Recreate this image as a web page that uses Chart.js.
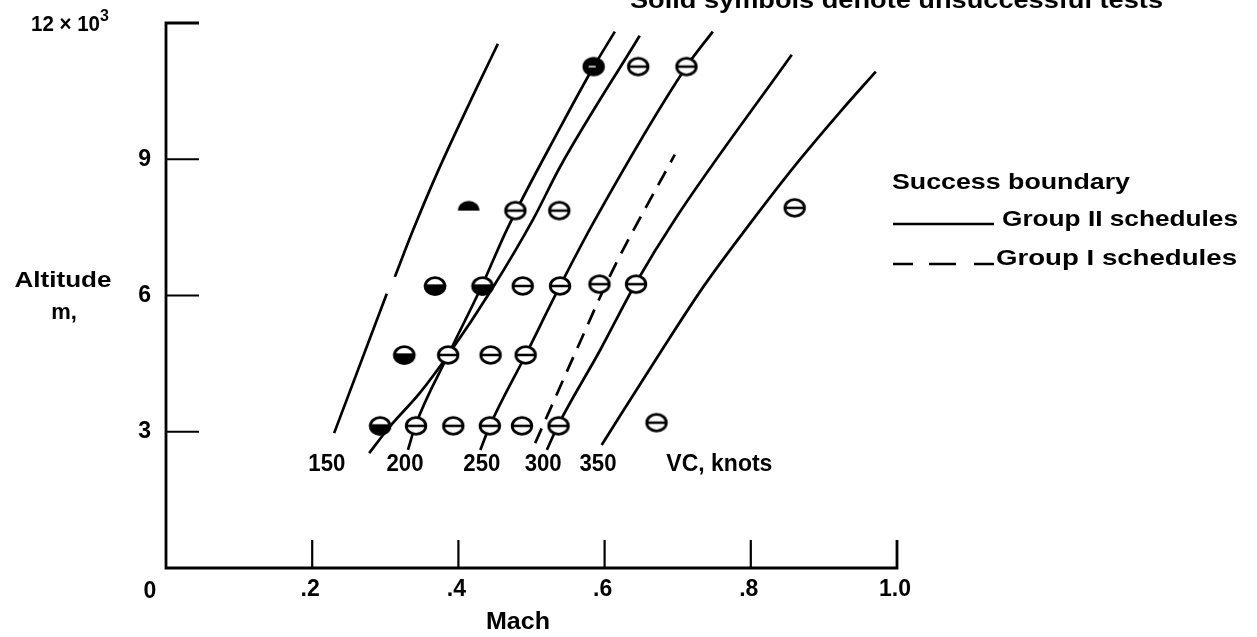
<!DOCTYPE html>
<html>
<head>
<meta charset="utf-8">
<script src="https://cdn.jsdelivr.net/npm/chart.js@4.4.1/dist/chart.umd.min.js"></script>
<style>
  html, body { margin: 0; padding: 0; background: #fff; }
  #wrap { width: 1257px; height: 637px; }
</style>
</head>
<body>
<div id="wrap"><canvas id="chart" width="1257" height="637"></canvas></div>
<script>
// axes: Mach number and altitude (thousands of metres)
const machTicks = [0.2, 0.4, 0.6, 0.8, 1.0];
const machTickLabels = ['.2', '.4', '.6', '.8', '1.0'];
const altTicks = [3, 6, 9, 12];
const altTickLabels = ['3', '6', '9', '12 × 10'];

// success boundaries, group II schedules (solid lines), per VC in knots
const vc150Mach = [0.230, 0.302, null, 0.313, 0.338, 0.371, 0.425, 0.454];
const vc150Alt  = [2.97, 6.04, null, 6.41, 7.44, 8.70, 10.57, 11.54];
const vcLowMach = [0.278, 0.306, 0.347, 0.386, 0.447, 0.502, 0.539, 0.648];
const vcLowAlt  = [2.53, 3.11, 3.85, 4.69, 6.17, 7.67, 8.83, 11.72];
const vc200Mach = [0.331, 0.341, 0.386, 0.432, 0.466, 0.539, 0.584, 0.614];
const vc200Alt  = [2.60, 3.13, 4.69, 6.21, 7.44, 9.69, 11.01, 11.81];
const vc250Mach = [0.430, 0.443, 0.492, 0.539, 0.587, 0.712, 0.748];
const vc250Alt  = [2.60, 3.13, 4.69, 6.21, 7.67, 11.04, 11.81];
const vc300Mach = [0.521, 0.536, 0.594, 0.643, 0.696, 0.856];
const vc300Alt  = [2.60, 3.13, 4.80, 6.28, 7.67, 11.30];
const vc350Mach = [0.596, 0.676, 0.735, 0.803, 0.867, 0.922, 0.971];
const vc350Alt  = [2.71, 4.74, 6.19, 7.67, 8.99, 10.04, 10.93];

// group I schedules (dashed line)
const groupIMach = [0.505, 0.566, 0.610, 0.696];
const groupIAlt  = [2.75, 4.96, 6.52, 9.10];

// test points
const openMach = [0.342, 0.393, 0.443, 0.487, 0.537, 0.671, 0.386, 0.444, 0.492,
                  0.488, 0.539, 0.593, 0.643, 0.478, 0.538, 0.860, 0.646, 0.712];
const openAlt  = [3.13, 3.13, 3.13, 3.13, 3.13, 3.20, 4.69, 4.69, 4.69,
                  6.21, 6.21, 6.25, 6.25, 7.87, 7.87, 7.93, 11.04, 11.04];
const halfMach = [0.293, 0.326, 0.368, 0.433];
const halfAlt  = [3.13, 4.69, 6.21, 6.21];
const domeMach = [0.414];
const domeAlt  = [7.87];
const solidMach = [0.585];
const solidAlt  = [11.04];

// VC labels under the lines
const vcLabels = ['150', '200', '250', '300', '350', 'VC, knots'];
const vcLabelMach = [0.220, 0.327, 0.432, 0.516, 0.591, 0.757];

const FONT = '"Liberation Sans", Arial, Helvetica, sans-serif';

function pts(xs, ys) {
    return xs.map((m, i) => ({ x: m, y: ys[i] }));
}

function makeSymbol(kind) {
    const c = document.createElement('canvas');
    c.width = 26; c.height = 22;
    const g = c.getContext('2d');
    const cx = 13, cy = 11, rx = 9.8, ry = 8.3;
    g.strokeStyle = '#000';
    g.lineWidth = 2.8;
    if (kind === 'dome') {
        g.beginPath();
        g.ellipse(cx, cy, rx + 1, ry + 1.5, 0, Math.PI, 2 * Math.PI);
        g.closePath();
        g.fillStyle = '#000';
        g.fill();
        return c;
    }
    g.beginPath();
    g.ellipse(cx, cy, rx, ry, 0, 0, 2 * Math.PI);
    g.fillStyle = kind === 'solid' ? '#000' : '#fff';
    g.fill();
    g.stroke();
    if (kind === 'half') {
        g.beginPath();
        g.ellipse(cx, cy, rx, ry, 0, 0, Math.PI);
        g.closePath();
        g.fillStyle = '#000';
        g.fill();
        g.stroke();
    }
    if (kind === 'solid') {
        g.beginPath();
        g.moveTo(cx - 5, cy); g.lineTo(cx + 2, cy);
        g.strokeStyle = '#fff';
        g.lineWidth = 1.4;
        g.stroke();
    } else {
        g.beginPath();
        g.moveTo(cx - rx, cy); g.lineTo(cx + rx, cy);
        g.lineWidth = 2.5;
        g.stroke();
    }
    return c;
}

function lineSet(xs, ys, dash) {
    return {
        type: 'scatter',
        data: pts(xs, ys),
        showLine: true,
        borderColor: '#000',
        borderWidth: 2.7,
        borderDash: dash,
        pointRadius: 0,
        cubicInterpolationMode: 'monotone',
        spanGaps: false,
        clip: false,
        order: 2
    };
}

function symbolSet(xs, ys, kind) {
    return {
        type: 'scatter',
        data: pts(xs, ys),
        pointStyle: makeSymbol(kind),
        pointRadius: 9,
        clip: false,
        order: 0
    };
}

function txt(ctx, s, x, y, o) {
    o = Object.assign({ size: 22, align: 'left', base: 'alphabetic', width: null }, o);
    ctx.font = 'bold ' + o.size + 'px ' + FONT;
    const w = ctx.measureText(s).width;
    const sx = o.width ? o.width / w : 1;
    ctx.save();
    ctx.translate(x, y);
    ctx.scale(sx, 1);
    ctx.textAlign = o.align;
    ctx.textBaseline = o.base;
    ctx.fillStyle = '#000';
    ctx.fillText(s, 0, 0);
    ctx.restore();
}

const oldAxes = {
    id: 'oldAxes',
    beforeDatasetsDraw(chart) {
        const { ctx, scales: { x, y } } = chart;
        const x0 = x.getPixelForValue(0), y0 = y.getPixelForValue(0);
        const xEnd = x.getPixelForValue(1.0), yTop = y.getPixelForValue(12);
        ctx.save();
        ctx.strokeStyle = '#000';
        ctx.lineWidth = 2.8;
        ctx.lineJoin = 'miter';
        ctx.beginPath();
        ctx.moveTo(x0 + 33, yTop);
        ctx.lineTo(x0, yTop);
        ctx.lineTo(x0, y0);
        ctx.lineTo(xEnd, y0);
        ctx.lineTo(xEnd, y0 - 28);
        ctx.stroke();
        ctx.lineWidth = 2.2;
        altTicks.slice(0, -1).forEach(v => {
            const py = y.getPixelForValue(v);
            ctx.beginPath(); ctx.moveTo(x0, py); ctx.lineTo(x0 + 33, py); ctx.stroke();
        });
        machTicks.slice(0, -1).forEach(v => {
            const px = x.getPixelForValue(v);
            ctx.beginPath(); ctx.moveTo(px, y0); ctx.lineTo(px, y0 - 28); ctx.stroke();
        });
        ctx.restore();
    },
    afterDraw(chart) {
        const { ctx, scales: { x, y } } = chart;
        const x0 = x.getPixelForValue(0), y0 = y.getPixelForValue(0);

        // tick labels
        txt(ctx, '0', x0 - 16, y0 + 24, { size: 23, align: 'center', base: 'middle' });
        machTicks.forEach((v, i) => {
            txt(ctx, machTickLabels[i], x.getPixelForValue(v) - 2, y0 + 22, { size: 23, align: 'center', base: 'middle' });
        });
        altTicks.forEach((v, i) => {
            const py = y.getPixelForValue(v);
            if (v === 12) {
                txt(ctx, altTickLabels[i], x0 - 66, py + 2, { size: 22, align: 'right', base: 'middle', width: 69 });
                txt(ctx, '3', x0 - 66, py - 6, { size: 16, align: 'left', base: 'middle' });
            } else {
                txt(ctx, altTickLabels[i], x0 - 15, py, { size: 23, align: 'right', base: 'middle' });
            }
        });

        // axis titles
        txt(ctx, 'Mach', 518, 623, { size: 23, align: 'center', base: 'middle', width: 64 });
        txt(ctx, 'Altitude', 63, 281, { size: 22, align: 'center', base: 'middle', width: 97 });
        txt(ctx, 'm,', 64, 313, { size: 22, align: 'center', base: 'middle' });

        // VC labels
        vcLabels.forEach((s, i) => {
            const w = s.length > 3 ? 106 : 37;
            txt(ctx, s, x.getPixelForValue(vcLabelMach[i]), y.getPixelForValue(2.27),
                { size: 23, align: 'center', base: 'middle', width: w });
        });

        // note and legend
        txt(ctx, 'Solid symbols denote unsuccessful tests', 630, 8, { size: 23, width: 533 });
        txt(ctx, 'Success boundary', 892, 189, { size: 22, width: 238 });
        txt(ctx, 'Group II schedules', 1002, 226, { size: 22, width: 236 });
        txt(ctx, 'Group I schedules', 996, 265, { size: 22, width: 241 });
        ctx.save();
        ctx.strokeStyle = '#000';
        ctx.lineWidth = 2.4;
        ctx.beginPath(); ctx.moveTo(893, 224); ctx.lineTo(994, 224); ctx.stroke();
        ctx.setLineDash([20, 16, 27, 18]);
        ctx.beginPath(); ctx.moveTo(893, 264); ctx.lineTo(994, 264); ctx.stroke();
        ctx.restore();
    }
};

new Chart(document.getElementById('chart'), {
    type: 'scatter',
    data: {
        datasets: [
            symbolSet(openMach, openAlt, 'open'),
            symbolSet(halfMach, halfAlt, 'half'),
            symbolSet(domeMach, domeAlt, 'dome'),
            symbolSet(solidMach, solidAlt, 'solid'),
            lineSet(vc150Mach, vc150Alt, []),
            lineSet(vcLowMach, vcLowAlt, []),
            lineSet(vc200Mach, vc200Alt, []),
            lineSet(vc250Mach, vc250Alt, []),
            lineSet(vc300Mach, vc300Alt, []),
            lineSet(vc350Mach, vc350Alt, []),
            lineSet(groupIMach, groupIAlt, [16, 10])
        ]
    },
    options: {
        responsive: false,
        animation: false,
        events: [],
        layout: { padding: { left: 166, right: 360, top: 23, bottom: 69 } },
        plugins: { legend: { display: false }, tooltip: { enabled: false } },
        scales: {
            x: { type: 'linear', min: 0, max: 1, display: false },
            y: { type: 'linear', min: 0, max: 12, display: false }
        }
    },
    plugins: [oldAxes]
});
</script>
</body>
</html>
